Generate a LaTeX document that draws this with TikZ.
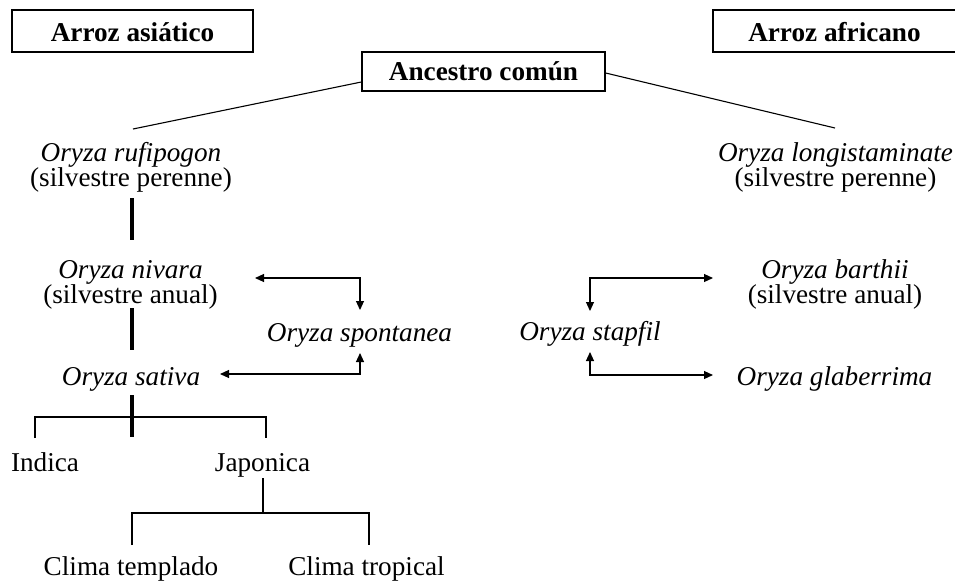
\documentclass[tikz,border=0pt]{standalone}
\usepackage{fontspec}
\setmainfont{Liberation Serif}
\usetikzlibrary{arrows.meta}
\newcommand\twolines[2]{\vtop{\baselineskip=12.8pt\lineskiplimit=-50pt\lineskip=0pt\halign{\hfil##\hfil\cr#1\cr#2\cr}}}
\begin{document}
\begin{tikzpicture}[x=0.5pt,y=-0.5pt,
  txt/.style={inner sep=0pt, anchor=base, font=\fontsize{13.6}{12.8}\selectfont},
  hdr/.style={draw, line width=0.7pt, inner sep=0pt, font=\bfseries\fontsize{13.6}{14}\selectfont, text height=10pt, text depth=0pt},
  thinline/.style={line width=0.55pt},
  thickline/.style={line width=1.6pt},
  dbl/.style={line width=0.55pt, {Triangle[length=4.5pt,width=4pt]}-{Triangle[length=4.5pt,width=4pt]}}]
\useasboundingbox (0,0) rectangle (955,580);
% header boxes
\node[hdr, minimum width=120.5pt, minimum height=21pt] (asia) at (132.5,31) {Arroz asiático};
\node[hdr, minimum width=121.5pt, minimum height=21pt] (afr) at (834.5,31) {Arroz africano};
\node[hdr, minimum width=121.5pt, minimum height=19.5pt, text height=8.5pt] (anc) at (483.5,71.5) {Ancestro común};
% texts
\node[txt] (ruf) at (131,161) {\twolines{\textit{Oryza rufipogon}}{(silvestre perenne)}};
\node[txt] (long) at (835.5,161) {\twolines{\textit{Oryza longistaminate}}{(silvestre perenne)}};
\node[txt] (niv) at (130.5,278) {\twolines{\textit{Oryza nivara}}{(silvestre anual)}};
\node[txt] (bar) at (835,278) {\twolines{\textit{Oryza barthii}}{(silvestre anual)}};
\node[txt] (spo) at (359.5,341) {\textit{Oryza spontanea}};
\node[txt] (sta) at (590,340.5) {\textit{Oryza stapfil}};
\node[txt] (sat) at (131,385) {\textit{Oryza sativa}};
\node[txt] (gla) at (834.5,385) {\textit{Oryza glaberrima}};
\node[txt] (ind) at (45,471) {Indica};
\node[txt] (jap) at (262.5,471) {Japonica};
\node[txt] (tem) at (131,575) {Clima templado};
\node[txt] (tro) at (366.5,575) {Clima tropical};
% coordinates
\coordinate (rufT) at (133,129);
\coordinate (longT) at (835,128);
\coordinate (rufB) at (132,198);
\coordinate (nivT) at (132,240);
\coordinate (nivB) at (132,308);
\coordinate (satT) at (132,350);
\coordinate (satB) at (132,395);
\coordinate (satE) at (132,437);
\coordinate (indT) at (35,438);
\coordinate (indC) at (35,417);
\coordinate (japC) at (266,417);
\coordinate (japT) at (266,438);
\coordinate (japB) at (263,478);
\coordinate (japJ) at (263,513);
\coordinate (temC) at (132,513);
\coordinate (temT) at (132,545);
\coordinate (troC) at (369,513);
\coordinate (troT) at (369,545);
\coordinate (nivA) at (255,278);
\coordinate (spoN) at (360,310);
\coordinate (satA) at (220,374);
\coordinate (spoS) at (360,353);
\coordinate (staN) at (590,311);
\coordinate (barA) at (713,278);
\coordinate (staS) at (590,352);
\coordinate (glaA) at (713,375);
% connectors
\draw[thinline] ([yshift=-5.25pt]anc.west) -- (rufT);
\draw[thinline] ([yshift=-0.75pt]anc.east) -- (longT);
\draw[thickline] (rufB) -- (nivT);
\draw[thickline] (nivB) -- (satT);
\draw[thinline] (indT) -- (indC) -- (japC) -- (japT);
\draw[thickline] (satB) -- (satE);
\draw[thinline] (japB) -- (japJ);
\draw[thinline] (temT) -- (temC) -- (troC) -- (troT);
\draw[dbl] (nivA) -| (spoN);
\draw[dbl] (satA) -| (spoS);
\draw[dbl] (staN) |- (barA);
\draw[dbl] (staS) |- (glaA);
\end{tikzpicture}
\end{document}
